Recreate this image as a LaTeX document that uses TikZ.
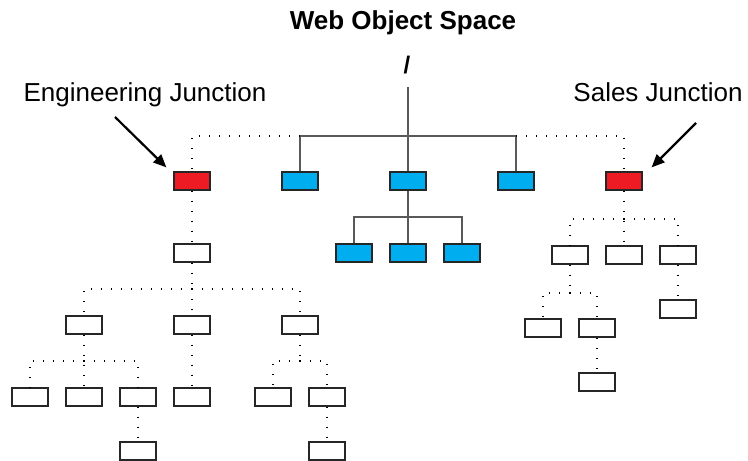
\documentclass[tikz,border=0pt]{standalone}
\usepackage{fontspec}
\setmainfont{Liberation Sans}
\usetikzlibrary{arrows.meta,calc}
\definecolor{jred}{HTML}{ED1C24}
\definecolor{jblue}{HTML}{00AEEF}
\begin{document}
\begin{tikzpicture}[x=1pt,y=-1pt,
  obj/.style={draw=black!85,line width=1.2pt,fill=white,minimum width=36pt,minimum height=18pt,inner sep=0pt},
  junc/.style={obj,fill=jred},
  pub/.style={obj,fill=jblue},
  solidln/.style={draw=black!65,line width=1.3pt},
  dots/.style={draw=black,line width=1.2pt,dash pattern=on 1.2pt off 8.8pt},
  arr/.style={draw=black,line width=2.2pt,-{Triangle[length=13pt,width=11pt]}},
  lbl/.style={font=\fontsize{26}{30}\selectfont,inner sep=0pt,anchor=base}]
\useasboundingbox (0,0) rectangle (748,461);
% labels
\node[lbl,font=\fontsize{26}{30}\selectfont\bfseries] (title) at (403,29) {Web Object Space};
\node[lbl,font=\fontsize{24}{28}\selectfont\bfseries] (root) at (407,73) {/};
\node[lbl] (ej) at (145,101) {Engineering Junction};
\node[lbl] (sj) at (658,101) {Sales Junction};
% top level
\node[junc] (RL) at (192,181) {};
\node[pub] (B1) at (300,181) {};
\node[pub] (B2) at (408,181) {};
\node[pub] (B3) at (516,181) {};
\node[junc] (RR) at (624,181) {};
\coordinate (rt) at (408,87);
\coordinate (tb) at (408,136);
\draw[solidln] (rt) -- (B2.north);
\draw[solidln] (B1.north) |- (tb) -| (B3.north);
\draw[dots] (tb -| B1) -| (RL.north);
\draw[dots] (tb -| B3) -| (RR.north);
% arrows
\coordinate (ea) at (115,117);
\coordinate (sa) at (696,123);
\draw[arr] (ea) -- ($(RL.north west)+(-7,-4)$);
\draw[arr] (sa) -- ($(RR.north east)+(9,-4)$);
% blue subtree
\node[pub] (P1) at (354,253) {};
\node[pub] (P2) at (408,253) {};
\node[pub] (P3) at (462,253) {};
\coordinate (pb) at (408,217);
\draw[solidln] (B2.south) -- (P2.north);
\draw[solidln] (P1.north) |- (pb) -| (P3.north);
% engineering subtree
\node[obj] (E1) at (192,253) {};
\node[obj] (E2a) at (84,325) {};
\node[obj] (E2b) at (192,325) {};
\node[obj] (E2c) at (300,325) {};
\node[obj] (E3a) at (30,397) {};
\node[obj] (E3b) at (84,397) {};
\node[obj] (E3c) at (138,397) {};
\node[obj] (E3d) at (192,397) {};
\node[obj] (E3e) at (273,397) {};
\node[obj] (E3f) at (327,397) {};
\node[obj] (E4a) at (138,451) {};
\node[obj] (E4b) at (327,451) {};
\draw[dots] (RL.south) -- (E1.north);
\coordinate (eb) at (192,289);
\draw[dots] (E1.south) -- (eb);
\draw[dots] (eb) -| (E2a.north);
\draw[dots] (eb) -| (E2c.north);
\draw[dots] (eb) -- (E2b.north);
\coordinate (ea2) at (84,361);
\draw[dots] (E2a.south) -- (E3b.north);
\draw[dots] (ea2) -| (E3a.north);
\draw[dots] (ea2) -| (E3c.north);
\draw[dots] (E2b.south) -- (E3d.north);
\coordinate (ec2) at (300,361);
\draw[dots] (E2c.south) -- (ec2);
\draw[dots] (ec2) -| (E3e.north);
\draw[dots] (ec2) -| (E3f.north);
\draw[dots] (E3c.south) -- (E4a.north);
\draw[dots] (E3f.south) -- (E4b.north);
% sales subtree
\node[obj] (S1) at (570,255) {};
\node[obj] (S2) at (624,255) {};
\node[obj] (S3) at (678,255) {};
\node[obj] (S4a) at (543,328) {};
\node[obj] (S4b) at (597,328) {};
\node[obj] (S5) at (597,382) {};
\node[obj] (S6) at (678,309) {};
\coordinate (sb) at (624,219);
\draw[dots] (RR.south) -- (S2.north);
\draw[dots] (sb) -| (S1.north);
\draw[dots] (sb) -| (S3.north);
\coordinate (sb2) at (570,293);
\draw[dots] (S1.south) -- (sb2);
\draw[dots] (sb2) -| (S4a.north);
\draw[dots] (sb2) -| (S4b.north);
\draw[dots] (S4b.south) -- (S5.north);
\draw[dots] (S3.south) -- (S6.north);
\end{tikzpicture}
\end{document}
